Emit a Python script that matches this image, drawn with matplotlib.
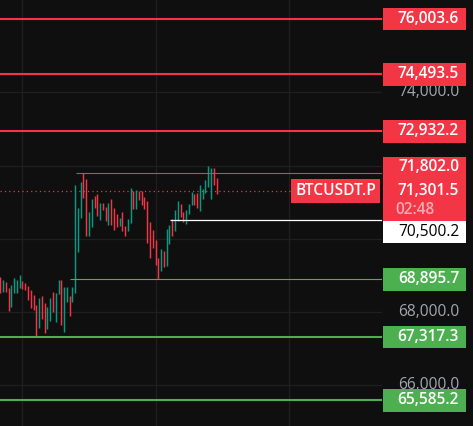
import matplotlib
matplotlib.use("Agg")
import matplotlib.pyplot as plt
from matplotlib.patches import Rectangle
from matplotlib.transforms import blended_transform_factory

# ---------------- data ----------------
highs = [68963, 68873, 68818, 68663, 68736, 68936, 68873, 69010, 68846, 68791,
         68709, 68600, 68463, 68190, 68389, 68436, 68236, 68144, 68389, 68553,
         68510, 68873, 68873, 68690, 68690, 68436, 68690, 71468, 70832, 71550,
         71802, 71632, 70739, 71086, 71168, 71222, 70968, 70985, 70876, 70985,
         71086, 70848, 70676, 70575, 70739, 70356, 70531, 71386, 71305, 71332,
         71305, 71305, 71132, 71040, 70466, 70239, 69966, 69482, 69720, 69665,
         70266, 70376, 70531, 70785, 71031, 70949, 70739, 70785, 70949, 71286,
         71222, 71241, 71468, 71359, 71605, 71987, 71941, 71941, 71650]
lows = [68510, 68554, 68545, 68034, 68143, 68510, 68518, 68654, 68627, 68600,
        68326, 68116, 68053, 67317, 67553, 67808, 67417, 67526, 67761, 68007,
        67734, 68482, 67644, 67460, 68280, 67898, 68280, 68510, 69646, 70559,
        71105, 70083, 70083, 70329, 70832, 70630, 70512, 70785, 70485, 70376,
        70376, 70239, 70329, 70348, 70220, 70075, 70212, 70438, 70813, 70813,
        71059, 70922, 70813, 69892, 69482, 69755, 69283, 68896, 69119, 69236,
        69255, 69849, 70083, 70220, 70485, 70603, 70449, 70395, 70667, 70922,
        70922, 70849, 70771, 71077, 71258, 71422, 71086, 71468, 71222]
# 1 = up (green), 0 = down (red)
up = [0, 1, 0, 0, 1, 1, 1, 1, 0, 0,
      0, 0, 0, 0, 1, 0, 0, 1, 1, 0,
      1, 1, 0, 1, 1, 0, 1, 1, 1, 1,
      0, 0, 1, 1, 0, 0, 1, 0, 0, 1,
      0, 0, 0, 1, 0, 0, 1, 1, 0, 1,
      0, 0, 0, 0, 0, 0, 0, 0, 1, 0,
      1, 1, 0, 1, 1, 0, 0, 1, 1, 1,
      0, 0, 1, 1, 1, 1, 1, 0, 0]

symbol = "BTCUSDT.P"
last_price = 71301.5
countdown = "02:48"

red_levels = [76003.6, 74493.5, 72932.2]
green_levels = [67317.3, 65585.2]
range_high = 71802.0
range_high_start = 28      # candle index where line starts
range_low = 68895.7
range_low_start = 26
mid_level = 70500.2
mid_level_start = 62

grid_prices = [66000, 68000, 70000, 72000, 74000, 76000]
visible_scale_labels = [66000, 68000, 74000]
grid_candles = [8, 56, 104]

# ---------------- style ----------------
BG = "#0f0f0f"
GRID = "#1f1f1f"
RED = "#f23645"
TEAL = "#089981"
GREEN = "#4caf50"
GRAY_TXT = "#a3a6af"

W, H, DPI = 473, 426, 100
fig = plt.figure(figsize=(W / DPI, H / DPI), dpi=DPI, facecolor=BG)
pane_w = 382
ax = fig.add_axes([0, 0, pane_w / W, 1])
ax.set_facecolor(BG)
for s in ax.spines.values():
    s.set_visible(False)
ax.set_xticks([])
ax.set_yticks([])

px_per_candle = 2.773
ax.set_xlim(-0.1, pane_w / px_per_candle - 0.1)
y_top, y_bot = 76522.7, 64884.4
ax.set_ylim(y_bot, y_top)
upp = (y_top - y_bot) / H   # price units per pixel

for g in grid_prices:
    ax.axhline(g, color=GRID, lw=0.9, zorder=0)
for g in grid_candles:
    ax.axvline(g, color=GRID, lw=0.9, zorder=0)

xs = list(range(len(highs)))
cols = [TEAL if u else RED for u in up]
ax.vlines(xs, lows, highs, colors=cols, linewidth=1.05, zorder=2)

# level lines
for p in red_levels:
    ax.axhline(p, color=RED, lw=1.5, zorder=3)
for p in green_levels:
    ax.axhline(p, color=GREEN, lw=1.5, zorder=3)
xmax = ax.get_xlim()[1]
ax.hlines(range_high, range_high_start - 0.8, xmax, color=RED, lw=0.8, zorder=3)
ax.hlines(range_low, range_low_start - 0.8, xmax, color=GREEN, lw=0.8, zorder=3)
ax.hlines(mid_level, mid_level_start - 0.8, xmax, color="white", lw=0.9, zorder=3)
ax.axhline(last_price, color=RED, lw=0.9, ls=(0, (1, 2.5)), zorder=1,
           xmax=(291 / pane_w))

# ---------------- price scale ----------------
tr = blended_transform_factory(fig.transFigure, ax.transData)
FONT = "Open Sans"
FS = 11.2
box_x0, box_x1 = 383 / W, 466 / W
txt_x = 459 / W

for g in visible_scale_labels:
    ax.text(txt_x, g, f"{g:,.1f}", transform=tr, ha="right", va="center",
            color=GRAY_TXT, fontsize=FS, family=FONT, clip_on=False, zorder=4)


def box(yc, hpx, face, z=6):
    h = hpx * upp
    r = Rectangle((box_x0, yc - h / 2), box_x1 - box_x0, h, transform=tr,
                  facecolor=face, edgecolor="none", clip_on=False, zorder=z)
    fig.add_artist(r)


def label(yc, txt, color="white", z=7, weight="semibold"):
    fig.text(txt_x, yc, txt, transform=tr, ha="right", va="center",
             color=color, fontsize=FS, family=FONT, weight=weight, zorder=z)


for p in red_levels:
    box(p, 22.5, RED)
    label(p, f"{p:,.1f}")
for p in green_levels:
    box(p, 22.5, GREEN)
    label(p, f"{p:,.1f}")
box(range_low, 23, GREEN)
label(range_low, f"{range_low:,.1f}")

# merged current-price box (range high + last price + countdown)
top_c = last_price + 34.5 * upp
bot_c = last_price - 30.5 * upp
h = top_c - bot_c
fig.add_artist(Rectangle((box_x0, bot_c), box_x1 - box_x0, h, transform=tr,
                         facecolor=RED, edgecolor="none", zorder=6))
label(last_price + 24 * upp, f"{range_high:,.1f}")
label(last_price, f"{last_price:,.1f}")
fig.text(395 / W, last_price - 18.5 * upp, countdown, transform=tr,
         ha="left", va="center", color="#f9aab2", fontsize=FS, family=FONT,
         weight="semibold", zorder=7)

# white mid-level box, pushed below the red one
mid_c = mid_level - 11.8 * upp
box(mid_c, 22.5, "white")
label(mid_c, f"{mid_level:,.1f}", color="black", weight="normal")

# symbol tag
sym_h = 23.4 * upp
fig.add_artist(Rectangle((291 / W, last_price - sym_h / 2), 89 / W, sym_h,
                         transform=tr, facecolor=RED, edgecolor="none", zorder=6))
fig.text(335.5 / W, last_price, symbol, transform=tr, ha="center", va="center",
         color="white", fontsize=FS, family=FONT, weight="semibold", zorder=7)

fig.savefig("out.png", dpi=DPI, facecolor=BG)
